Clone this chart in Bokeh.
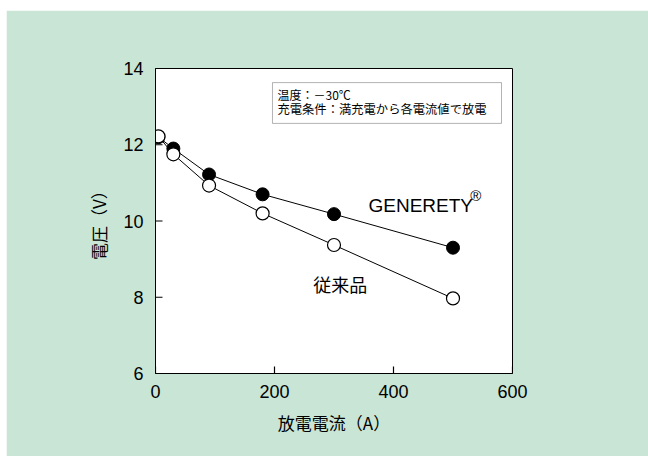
from bokeh.plotting import figure
from bokeh.models import Label, BoxAnnotation, Range1d, FixedTicker
from bokeh.embed import file_html
from bokeh.resources import INLINE

current = [5, 30, 90, 180, 300, 500]
generety_v = [12.2, 11.9, 11.22, 10.7, 10.18, 9.3]
conventional_v = [12.22, 11.75, 10.93, 10.2, 9.37, 7.97]
x_ticks = [0, 200, 400, 600]
y_ticks = [6, 8, 10, 12, 14]

GREEN = "#c9e5d5"
FONT = "Liberation Sans, 'Noto Sans CJK JP'"
JFONT = "'Noto Sans CJK JP', Liberation Sans"

X0, X1, Y0, Y1 = 0, 600, 6, 14
FRAME_W, FRAME_H = 357, 305
TICK_PX = 7

p = figure(width=642, height=446, output_backend="svg", toolbar_location=None,
           x_range=Range1d(X0, X1), y_range=Range1d(Y0, Y1),
           min_border_left=149, min_border_right=136, min_border_top=58, min_border_bottom=83)
p.margin = (10, 0, 0, 6)
p.background_fill_color = "white"
p.border_fill_color = GREEN
p.outline_line_color = "black"
p.outline_line_width = 1
p.grid.visible = False

for ax in (p.xaxis[0], p.yaxis[0]):
    ax.major_tick_in = 0
    ax.major_tick_out = 0
    ax.minor_tick_line_color = None
    ax.axis_line_color = "black"
    ax.major_label_text_font = FONT
    ax.major_label_text_font_size = "18px"
    ax.major_label_text_color = "black"
    ax.axis_label_text_font = JFONT
    ax.axis_label_text_font_size = "17px"
    ax.axis_label_text_font_style = "normal"
    ax.axis_label_text_color = "#000000"

p.xaxis.ticker = FixedTicker(ticks=x_ticks)
p.yaxis.ticker = FixedTicker(ticks=y_ticks)
p.xaxis.major_label_standoff = 11
p.yaxis.major_label_standoff = 12
p.xaxis.axis_label = "放電電流（A）"
p.yaxis.axis_label = "電圧（V）"
p.xaxis.axis_label_standoff = 9
p.yaxis.axis_label_standoff = 9

# inward tick marks drawn from the tick arrays
dy = TICK_PX * (Y1 - Y0) / FRAME_H
dx = TICK_PX * (X1 - X0) / FRAME_W
p.segment(x0=x_ticks, y0=[Y0] * len(x_ticks), x1=x_ticks, y1=[Y0 + dy] * len(x_ticks),
          line_color="black", line_width=1.2)
p.segment(x0=[X0] * len(y_ticks), y0=y_ticks, x1=[X0 + dx] * len(y_ticks), y1=y_ticks,
          line_color="black", line_width=1.2)

p.line(current, generety_v, line_color="black", line_width=1)
p.line(current, conventional_v, line_color="black", line_width=1)
p.scatter(current, generety_v, size=13, fill_color="black", line_color="black")
p.scatter(current, conventional_v, size=13, fill_color="white", line_color="black", line_width=1.2)

box = BoxAnnotation(left=196.6, right=581.5, bottom=12.56, top=13.63,
                    fill_color="white", fill_alpha=1, line_color="black", line_width=1)
p.add_layout(box)
p.add_layout(Label(x=205, y=13.32, text="温度：－30℃", text_font=JFONT,
                   text_font_size="12px", text_baseline="middle", text_color="black"))
p.add_layout(Label(x=205, y=12.94, text="充電条件：満充電から各電流値で放電", text_font=JFONT,
                   text_font_size="12.3px", text_baseline="middle", text_color="black"))
p.add_layout(Label(x=358, y=10.41, text="GENERETY", text_font=FONT,
                   text_font_size="19px", text_baseline="middle", text_color="black"))
p.add_layout(Label(x=529, y=10.66, text="®", text_font=FONT,
                   text_font_size="15px", text_baseline="middle", text_color="black"))
p.add_layout(Label(x=265, y=8.36, text="従来品", text_font=JFONT,
                   text_font_size="18px", text_baseline="middle", text_color="black"))

open("out.html", "w").write(file_html(p, INLINE))
